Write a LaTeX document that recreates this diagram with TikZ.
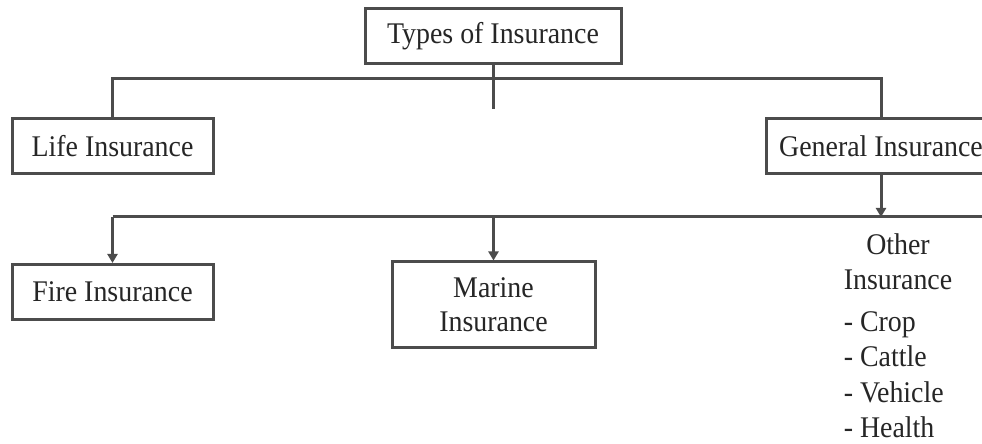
\documentclass[tikz,border=0pt]{standalone}
\usepackage{fontspec}
\setmainfont{Liberation Serif}[FakeStretch=0.93]
\usepackage{tikz}
\usetikzlibrary{arrows.meta,positioning}

\begin{document}
\begin{tikzpicture}[
    x=1pt, y=1pt,
    insbox/.style={draw=black!70, line width=3pt, fill=white,
                   minimum height=55pt, align=center, inner sep=2pt,
                   text=black!85, font=\fontsize{30}{34}\selectfont},
    bus/.style={draw=black!70, line width=3pt},
    arrow/.style={bus, -{Triangle[length=9pt, width=10pt]}},
  ]
  \useasboundingbox (0,0) rectangle (982,444);

  \node[insbox, minimum width=256pt] (types) at (493,407.5) {Types of Insurance};

  \node[insbox, minimum width=201pt] (life) at (112.5,298) {Life Insurance};
  \node[insbox, minimum width=230pt] (general) at (881,297.5) {General Insurance};

  \node[insbox, minimum width=201pt, below=88pt of life] (fire) {Fire Insurance};
  \node[insbox, minimum width=203pt, minimum height=86pt] (marine) at (493.5,139)
      {Marine\\Insurance};

  \node[anchor=north, text=black!85, inner sep=0pt,
        font=\fontsize{30}{35.5}\selectfont] (other) at (898,215)
      {\begin{tabular}{@{}l@{}}
         \multicolumn{1}{c}{Other}\\
         Insurance\\[6pt]
         - Crop\\
         - Cattle\\
         - Vehicle\\
         - Health
       \end{tabular}};

  % upper bus: types -> life / general
  \draw[bus] (life.north) -- ++(0,38) -| (general.north);
  \draw[bus] (types.south) -- ++(0,-44);

  % lower bus: general -> fire / marine / other
  \coordinate (busR) at (982,227);
  \draw[bus] (fire.north |- busR) -- (busR);
  \draw[arrow] (general.south) -- (general.south |- busR);
  \draw[arrow] (fire.north |- busR) -- (fire.north);
  \draw[arrow] (marine.north |- busR) -- (marine.north);

\end{tikzpicture}
\end{document}
